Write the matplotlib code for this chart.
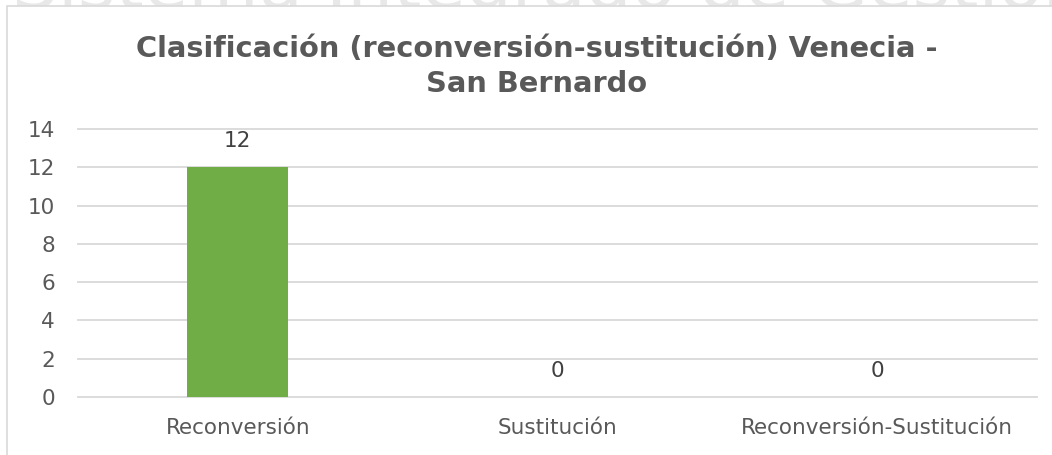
import numpy as np
import matplotlib.pyplot as plt
from matplotlib.patches import Rectangle

categorias = ['Reconversión', 'Sustitución', 'Reconversión-Sustitución']
valores = [12, 0, 0]
ticks_y = [0, 2, 4, 6, 8, 10, 12, 14]
titulo = ['Clasificación (reconversión-sustitución) Venecia -', 'San Bernardo']
marca = 'Sistema Integrado de Gestión'

W, H = 1052, 455
fig = plt.figure(figsize=(W / 100, H / 100), dpi=100)
fig.patch.set_facecolor('white')

# marca de agua (solo asoma por encima del marco del grafico)
fig.text(12 / W, 1 - 8 / H, marca, fontsize=52, color='#e8e8e8',
         ha='left', va='baseline', zorder=0)

# marco del grafico, tapa la marca de agua
marco = Rectangle((7 / W, -0.1), 1.2, 1 - 6 / H + 0.1, transform=fig.transFigure,
                  facecolor='white', edgecolor='#d9d9d9', linewidth=1.2, zorder=1)
fig.add_artist(marco)

ax = fig.add_axes([78 / W, 1 - 397 / H, (1037 - 78) / W, (397 - 129) / H], zorder=2)
ax.patch.set_alpha(0)

x = np.arange(len(categorias))
barras = ax.bar(x, valores, width=0.316, color='#70ad47', zorder=3)

for xi, v in zip(x, valores):
    ax.annotate(str(v), (xi, v), xytext=(0, 11.5), textcoords='offset points',
                ha='center', va='bottom', fontsize=15.5, color='#404040')

ax.set_xlim(-0.5, len(categorias) - 0.5)
ax.set_ylim(0, 14)
ax.set_yticks(ticks_y)
ax.set_xticks(x)
ax.set_xticklabels(categorias)
ax.yaxis.grid(True, color='#d9d9d9', linewidth=1.3, zorder=0)
for gl in ax.get_ygridlines():
    gl.set_clip_on(False)
ax.set_axisbelow(True)
for s in ax.spines.values():
    s.set_visible(False)
ax.tick_params(axis='both', length=0, labelsize=15.5, labelcolor='#595959')
ax.tick_params(axis='y', pad=16.5)
ax.tick_params(axis='x', pad=15)

# titulo en dos lineas
for i, linea in enumerate(titulo):
    fig.text(536.5 / W, 1 - (57 + 35 * i) / H, linea, fontsize=20.8, fontweight='bold',
             color='#595959', ha='center', va='baseline', zorder=3)

fig.savefig('out.png', dpi=100)
